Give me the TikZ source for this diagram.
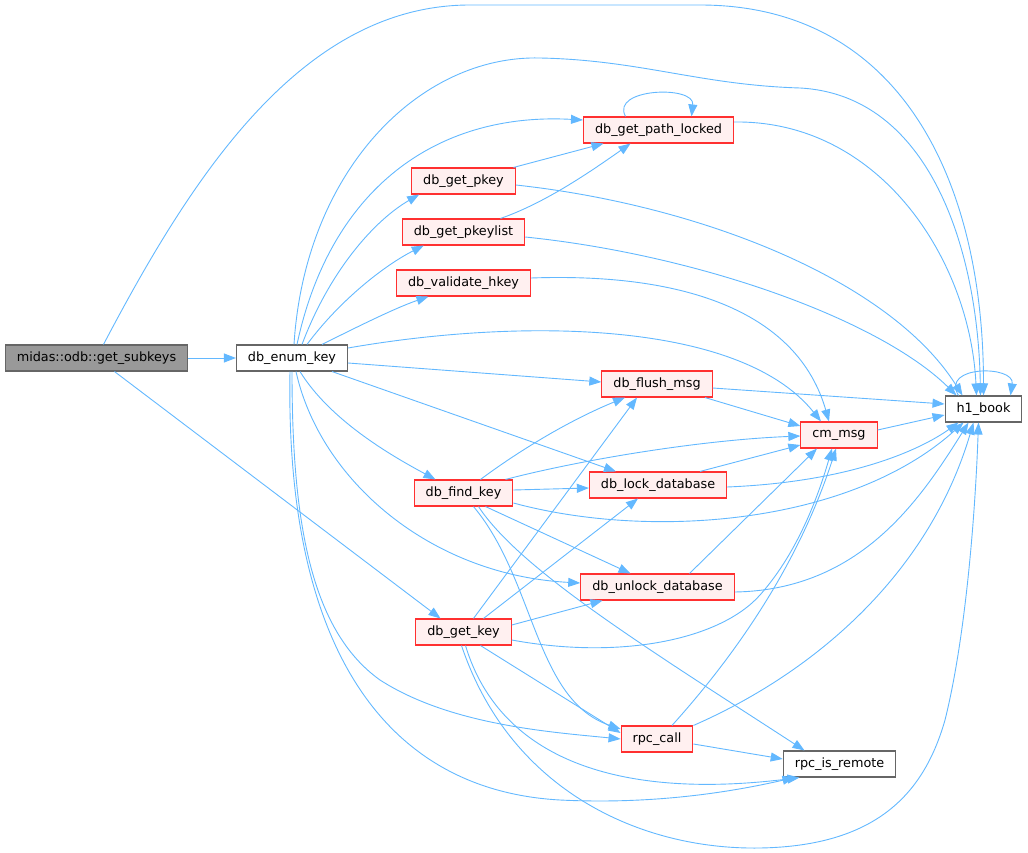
\documentclass[tikz,border=0pt]{standalone}
\usepackage{fontspec}
\setmainfont{DejaVu Sans}
\usepackage{tikz}
\usetikzlibrary{arrows.meta}
\definecolor{callblue}{HTML}{63B8FF}
\definecolor{fnred}{HTML}{FF3030}
\definecolor{fnfill}{HTML}{FFF0F0}
\definecolor{leafgrey}{HTML}{666666}
\definecolor{rootgrey}{HTML}{999999}

\begin{document}
\begin{tikzpicture}[x=1pt,y=-1pt,
  >={Triangle[length=12pt,width=9pt]},
  call/.style={->,draw=callblue,line width=0.9pt},
  fn/.style={draw=fnred,fill=fnfill},
  leaf/.style={draw=leafgrey,fill=white},
  focus/.style={draw=leafgrey,fill=rootgrey}]
      \tikzstyle{every node}=[rectangle,minimum height=26pt,inner xsep=11.5pt,inner ysep=0pt,line width=1.1pt,text=black,font=\fontsize{12.8}{15}\selectfont]

     \useasboundingbox (0,0) rectangle (1028,853);

     \node [focus] (subkeys) at (96.5,358) {midas::odb::get\_subkeys};
     \node [leaf] (enumkey) at (292,358) {db\_enum\_key};
     \node [fn] (pathlocked) at (658.5,130) {db\_get\_path\_locked};
     \node [fn] (pkey) at (463.5,181) {db\_get\_pkey};
     \node [fn] (pkeylist) at (463.5,232) {db\_get\_pkeylist};
     \node [fn] (validate) at (463.5,283) {db\_validate\_hkey};
     \node [fn] (flush) at (657,384) {db\_flush\_msg};
     \node [leaf] (hbook) at (983.5,409) {h1\_book};
     \node [fn] (cmmsg) at (839,435) {cm\_msg};
     \node [fn] (findkey) at (463.5,493) {db\_find\_key};
     \node [fn] (lockdb) at (658,485) {db\_lock\_database};
     \node [fn] (unlockdb) at (657.5,587) {db\_unlock\_database};
     \node [fn] (getkey) at (463.5,632) {db\_get\_key};
     \node [fn] (rpccall) at (657,739) {rpc\_call};
     \node [leaf] (remote) at (839.5,764) {rpc\_is\_remote};

     % midas::odb::get_subkeys
     \draw[call] (subkeys) -- (enumkey);
     \draw[call] ([xshift=7pt]subkeys.north) .. controls (190,180) and (300,5) .. (470,5) -- (700,5) .. controls (900,5) and (983.5,180) .. (hbook.north);
     \draw[call] ([xshift=18pt]subkeys.south) -- ([xshift=-23pt]getkey.north);

     % db_enum_key
     \draw[call] ([xshift=2pt]enumkey.north) .. controls (305,170) and (420,55) .. (540,58) .. controls (640,60) and (700,85) .. (800,88) .. controls (930,95) and (978,250) .. ([xshift=-3pt]hbook.north);
     \draw[call] ([xshift=5pt]enumkey.north) .. controls (330,190) and (435,112) .. ([yshift=10pt]pathlocked.west);
     \draw[call] ([xshift=10pt]enumkey.north) .. controls (330,270) and (375,220) .. ([xshift=8pt]pkey.south west);
     \draw[call] ([xshift=15pt]enumkey.north) .. controls (340,300) and (385,265) .. ([xshift=22pt]pkeylist.south west);
     \draw[call] ([xshift=30pt]enumkey.north) .. controls (355,328) and (395,308) .. ([xshift=-35pt]validate.south);
     \draw[call] ([yshift=10pt]enumkey.east) .. controls (520,318) and (740,320) .. ([xshift=-18pt]cmmsg.north);
     \draw[call] ([yshift=-5pt]enumkey.east) -- ([yshift=2pt]flush.west);
     \draw[call] ([xshift=8pt]enumkey.south) .. controls (330,420) and (390,455) .. ([xshift=-28pt]findkey.north);
     \draw[call] ([xshift=40pt]enumkey.south) -- ([xshift=-42pt]lockdb.north);
     \draw[call] ([xshift=4pt]enumkey.south) .. controls (320,480) and (430,575) .. ([yshift=4pt]unlockdb.west);
     \draw[call] (enumkey.south) .. controls (292,520) and (310,630) .. (380,680) .. controls (450,725) and (550,732) .. (rpccall.west);
     \draw[call] ([xshift=-2pt]enumkey.south) .. controls (285,640) and (380,790) .. (560,800) .. controls (660,805) and (740,790) .. ([xshift=-45pt]remote.south);

     % db_get_path_locked, db_get_pkey, db_get_pkeylist, db_validate_hkey
     \draw[call] ([xshift=-33pt]pathlocked.north) .. controls (610,88) and (695,85) .. ([xshift=33pt]pathlocked.north);
     \draw[call] ([yshift=8pt]pathlocked.east) .. controls (880,120) and (970,260) .. ([xshift=-7pt]hbook.north);
     \draw[call] ([xshift=50pt]pkey.north) -- ([xshift=-55pt]pathlocked.south);
     \draw[call] ([xshift=37pt]pkeylist.north) .. controls (545,203) and (590,172) .. ([xshift=-28pt]pathlocked.south);
     \draw[call] ([yshift=-4pt]pkey.east) .. controls (700,205) and (890,280) .. ([xshift=-21pt]hbook.north);
     \draw[call] ([yshift=-5pt]pkeylist.east) .. controls (700,255) and (880,320) .. ([xshift=-27pt]hbook.north);
     \draw[call] ([yshift=5pt]validate.east) .. controls (700,272) and (800,320) .. ([xshift=-10pt]cmmsg.north);

     % db_flush_msg, cm_msg, h1_book
     \draw[call] ([yshift=-4pt]flush.east) -- ([yshift=5pt]hbook.west);
     \draw[call] ([xshift=48pt]flush.south) -- ([yshift=9pt]cmmsg.west);
     \draw[call] ([yshift=5pt]cmmsg.east) -- ([yshift=-6pt]hbook.west);
     \draw[call] ([xshift=-25pt]hbook.north) .. controls (940,365) and (1015,365) .. ([xshift=27pt]hbook.north);

     % db_find_key
     \draw[call] ([xshift=17pt]findkey.north) .. controls (520,450) and (570,420) .. ([xshift=-32pt]flush.south);
     \draw[call] ([xshift=42pt]findkey.north) .. controls (580,460) and (700,440) .. ([yshift=-1pt]cmmsg.west);
     \draw[call] ([yshift=3pt]findkey.east) -- ([yshift=-3pt]lockdb.west);
     \draw[call] ([yshift=-10pt]findkey.east) .. controls (650,540) and (850,525) .. ([xshift=-20pt]hbook.south);
     \draw[call] ([xshift=22pt]findkey.south) -- ([xshift=-27pt]unlockdb.north);
     \draw[call] ([xshift=10pt]findkey.south) .. controls (535,580) and (535,700) .. ([yshift=10pt]rpccall.west);
     \draw[call] ([xshift=15pt]findkey.south) .. controls (520,570) and (650,650) .. ([xshift=-35pt]remote.north);

     % db_lock_database, db_unlock_database
     \draw[call] ([xshift=42pt]lockdb.north) -- ([yshift=-10pt]cmmsg.west);
     \draw[call] ([yshift=-2pt]lockdb.east) .. controls (850,482) and (920,450) .. ([xshift=-25pt]hbook.south);
     \draw[call] ([xshift=32pt]unlockdb.north) -- ([xshift=-22pt]cmmsg.south);
     \draw[call] ([yshift=-5pt]unlockdb.east) .. controls (860,590) and (920,500) .. ([xshift=-15pt]hbook.south);

     % db_get_key
     \draw[call] ([xshift=10pt]getkey.north) -- ([xshift=-20pt]flush.south);
     \draw[call] ([xshift=20pt]getkey.north) -- ([xshift=-20pt]lockdb.south);
     \draw[call] ([yshift=7pt]getkey.east) -- ([xshift=-55pt]unlockdb.south);
     \draw[call] ([yshift=-8pt]getkey.east) .. controls (620,660) and (720,640) .. (760,595) .. controls (800,550) and (820,490) .. ([xshift=-7pt]cmmsg.south);
     \draw[call] ([xshift=17pt]getkey.south) -- ([yshift=6pt]rpccall.west);
     \draw[call] ([xshift=2pt]getkey.south) .. controls (500,760) and (620,800) .. ([xshift=-40pt]remote.south);
     \draw[call] ([xshift=-2pt]getkey.south) .. controls (510,790) and (640,850) .. (760,848) .. controls (880,846) and (925,790) .. (945,720) .. controls (965,640) and (975,520) .. ([xshift=-5pt]hbook.south);

     % rpc_call
     \draw[call] ([xshift=15pt]rpccall.north) .. controls (740,650) and (800,560) .. ([xshift=-3pt]cmmsg.south);
     \draw[call] (rpccall.north east) .. controls (820,670) and (930,570) .. ([xshift=-10pt]hbook.south);
     \draw[call] ([yshift=-5pt]rpccall.east) -- ([yshift=5pt]remote.west);

  \end{tikzpicture}
\end{document}
